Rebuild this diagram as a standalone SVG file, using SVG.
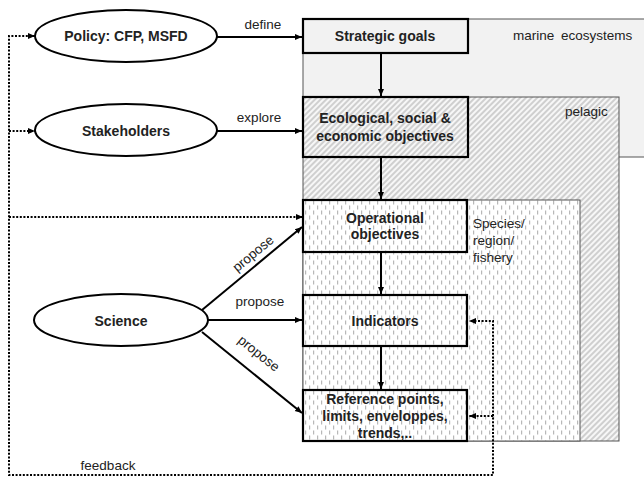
<svg xmlns="http://www.w3.org/2000/svg" width="644" height="477" viewBox="0 0 644 477">
<defs>
<pattern id="hatch" patternUnits="userSpaceOnUse" width="4" height="4" patternTransform="rotate(45)">
<rect width="4" height="4" fill="#f7f7f7"/>
<line x1="1" y1="0" x2="1" y2="4" stroke="#b5b5b5" stroke-width="1.2"/>
</pattern>
<pattern id="dash" patternUnits="userSpaceOnUse" width="8" height="10">
<rect width="8" height="10" fill="#ffffff"/>
<rect x="1" y="0.5" width="1.2" height="4" fill="#b8b8b8"/>
<rect x="5" y="5.5" width="1.2" height="4" fill="#b8b8b8"/>
</pattern>
<marker id="arr" markerWidth="8" markerHeight="8" refX="7" refY="4" orient="auto" markerUnits="userSpaceOnUse">
<path d="M0,1 L7,4 L0,7 z" fill="#000"/>
</marker>
</defs>
<style>
.box{stroke:#000;stroke-width:2.2}
.region{stroke:#555;stroke-width:1}
.ell{fill:#fff;stroke:#000;stroke-width:2}
.bt{font-family:"Liberation Sans",Arial,sans-serif;font-weight:bold;font-size:14px;fill:#222;text-anchor:middle}
.lt{font-family:"Liberation Sans",Arial,sans-serif;font-size:13.5px;fill:#222}
.solid{fill:none;stroke:#000;stroke-width:2}
.dot{fill:none;stroke:#000;stroke-width:2;stroke-dasharray:2 1.6}
</style>

<g id="regions">
<rect id="marine" class="region" x="303" y="19" width="350" height="138" fill="#f2f2f2"/>
<text class="lt" x="513" y="40" word-spacing="3">marine ecosystems</text>
<rect id="pelagic" class="region" x="303" y="97" width="316" height="344" fill="url(#hatch)"/>
<text class="lt" x="565" y="116">pelagic</text>
<rect id="species" class="region" x="303" y="200" width="277" height="241" fill="url(#dash)"/>
<text class="lt" x="473" y="228">Species/</text>
<text class="lt" x="473" y="245">region/</text>
<text class="lt" x="473" y="262">fishery</text>
</g>

<g id="policy">
<ellipse class="ell" cx="126" cy="36" rx="91" ry="26"/>
<text class="bt" x="126" y="41">Policy: CFP, MSFD</text>
</g>
<g id="stakeholders">
<ellipse class="ell" cx="126" cy="130" rx="91" ry="26"/>
<text class="bt" x="126" y="136">Stakeholders</text>
</g>
<g id="science">
<ellipse class="ell" cx="121" cy="320" rx="87" ry="26"/>
<text class="bt" x="121" y="326">Science</text>
</g>

<g id="strategic">
<rect class="box" x="303" y="19" width="165" height="34" fill="#f2f2f2"/>
<text class="bt" x="385" y="41">Strategic goals</text>
</g>
<g id="ecological">
<rect class="box" x="303" y="97" width="165" height="60" fill="none"/>
<text class="bt" x="385" y="123">Ecological, social &amp;</text>
<text class="bt" x="385" y="141">economic objectives</text>
</g>
<g id="operational">
<rect class="box" x="303" y="200" width="164" height="52" fill="none"/>
<text class="bt" x="385" y="223">Operational</text>
<text class="bt" x="385" y="239">objectives</text>
</g>
<g id="indicators">
<rect class="box" x="303" y="295" width="164" height="51" fill="none"/>
<text class="bt" x="385" y="326">Indicators</text>
</g>
<g id="reference">
<rect class="box" x="303" y="390" width="164" height="51" fill="none"/>
<text class="bt" x="385" y="404">Reference points,</text>
<text class="bt" x="385" y="421">limits, enveloppes,</text>
<text class="bt" x="385" y="438">trends,..</text>
</g>

<g id="connectors">
<line class="solid" x1="217" y1="37" x2="302" y2="37" marker-end="url(#arr)"/>
<text class="lt" x="263" y="29" text-anchor="middle">define</text>
<line class="solid" x1="217" y1="131" x2="302" y2="131" marker-end="url(#arr)"/>
<text class="lt" x="259" y="122" text-anchor="middle">explore</text>
<line class="solid" x1="381" y1="53" x2="381" y2="96" marker-end="url(#arr)"/>
<line class="solid" x1="381" y1="157" x2="381" y2="199" marker-end="url(#arr)"/>
<line class="solid" x1="381" y1="252" x2="381" y2="294" marker-end="url(#arr)"/>
<line class="solid" x1="381" y1="346" x2="381" y2="389" marker-end="url(#arr)"/>
<line class="solid" x1="202" y1="310" x2="302" y2="227" marker-end="url(#arr)"/>
<text class="lt" x="0" y="0" text-anchor="middle" transform="translate(256,257) rotate(-39.5)">propose</text>
<line class="solid" x1="208" y1="320" x2="302" y2="320" marker-end="url(#arr)"/>
<text class="lt" x="260" y="306" text-anchor="middle">propose</text>
<line class="solid" x1="202" y1="332" x2="302" y2="413" marker-end="url(#arr)"/>
<text class="lt" x="0" y="0" text-anchor="middle" transform="translate(256,357) rotate(38.7)">propose</text>

<polyline class="dot" points="35,36 9,36 9,475 493,475 493,321 469,321"/>
<line class="dot" x1="493" y1="416" x2="469" y2="416"/>
<line class="dot" x1="9" y1="131" x2="35" y2="131"/>
<line class="dot" x1="9" y1="217" x2="302" y2="217"/>
<path d="M28,33 L35,36 L28,39 z M28,128 L35,131 L28,134 z M296,214 L303,217 L296,220 z M476,318 L469,321 L476,324 z M476,413 L469,416 L476,419 z" fill="#000"/>
<text class="lt" x="108" y="470" text-anchor="middle">feedback</text>
</g>
</svg>
